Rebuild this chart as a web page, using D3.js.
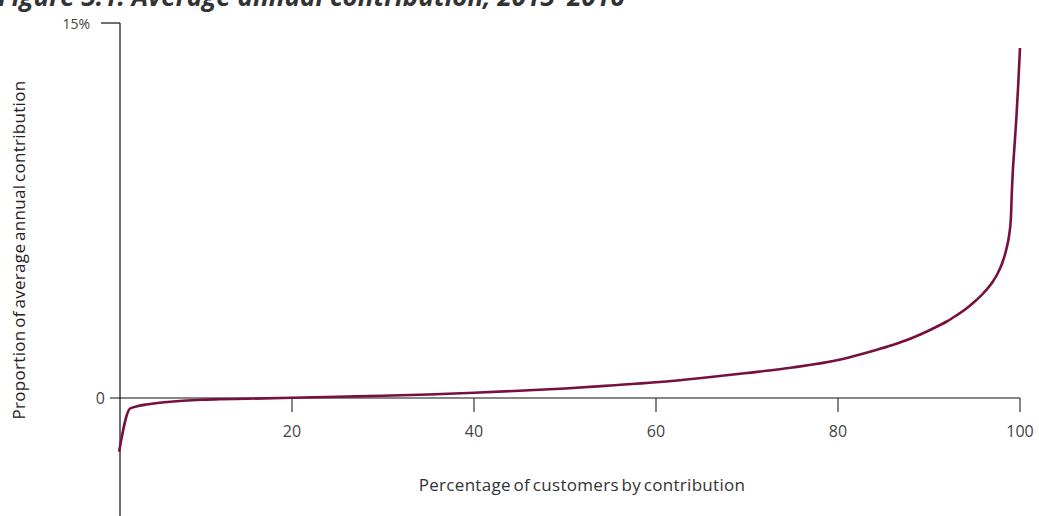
<!DOCTYPE html>
<html>
<head>
<meta charset="utf-8">
<script src="https://cdn.jsdelivr.net/npm/d3@7"></script>
<style>
  html, body { margin: 0; padding: 0; background: #fff; }
  svg { display: block; }
</style>
</head>
<body>
<svg id="chart" width="1039" height="516"></svg>
<script>
const titleText = "Figure 3.1: Average annual contribution, 2013–2016";
const xLabel = "Percentage of customers by contribution";
const yLabel = "Proportion of average annual contribution";

const pct = [1, 2.2, 3, 4, 5, 6, 8, 10, 12, 15, 20, 25, 30, 35, 40, 45, 50, 55, 60, 65, 70, 75, 80, 82, 84, 86, 88, 90, 91, 92, 93, 94, 95, 96, 97, 97.5, 98, 98.5, 98.8, 99, 99.1, 99.2, 99.4, 99.6, 99.8, 100];
const share = [-2.15, -0.42, -0.33, -0.26, -0.21, -0.17, -0.11, -0.07, -0.05, -0.03, 0.01, 0.05, 0.09, 0.14, 0.21, 0.29, 0.38, 0.5, 0.63, 0.8, 1.0, 1.22, 1.52, 1.7, 1.9, 2.12, 2.38, 2.7, 2.88, 3.07, 3.3, 3.55, 3.85, 4.2, 4.65, 4.95, 5.35, 5.95, 6.5, 7.2, 8.2, 9.0, 10.1, 11.2, 12.5, 14.0];

const xTicks = [20, 40, 60, 80, 100];
const yTicks = [0, 15];

const svg = d3.select("#chart");
const x = d3.scaleLinear().domain([0, 100]).range([110, 1020]);
const y = d3.scaleLinear().domain([-5, 15]).range([523, 23]);
const yAxisX = x(1.1);

const txt = "#444";
const fontFam = "'Open Sans', sans-serif";

// Title (cut off at top edge, as in the reference)
svg.append("text")
  .attr("x", -2).attr("y", 6)
  .attr("font-family", "'Open Sans', sans-serif")
  .attr("font-weight", "bold").attr("font-style", "italic")
  .attr("font-size", 26).attr("fill", "#333")
  .text(titleText);

// Y axis line
svg.append("line")
  .attr("x1", yAxisX).attr("x2", yAxisX)
  .attr("y1", y(15)).attr("y2", 516)
  .attr("stroke", "#111").attr("stroke-width", 1.2);

// top tick
svg.append("line")
  .attr("x1", yAxisX - 19).attr("x2", yAxisX)
  .attr("y1", y(15)).attr("y2", y(15))
  .attr("stroke", "#111").attr("stroke-width", 1.2);

// X axis line (zero line)
svg.append("line")
  .attr("x1", x(0)).attr("x2", x(100))
  .attr("y1", y(0)).attr("y2", y(0))
  .attr("stroke", "#111").attr("stroke-width", 1.2);

// X ticks
svg.selectAll(".xt").data(xTicks).enter().append("line")
  .attr("x1", d => x(d)).attr("x2", d => x(d))
  .attr("y1", y(0)).attr("y2", y(0) + 14)
  .attr("stroke", "#333").attr("stroke-width", 1.2);

svg.selectAll(".xl").data(xTicks).enter().append("text")
  .attr("x", d => x(d)).attr("y", 437)
  .attr("text-anchor", "middle")
  .attr("font-family", fontFam).attr("font-size", 16).attr("fill", txt)
  .text(d => d);

// Y tick labels
svg.append("text")
  .attr("x", 90).attr("y", y(15) + 6)
  .attr("text-anchor", "end")
  .attr("font-family", fontFam).attr("font-size", 14).attr("fill", txt)
  .text(yTicks[1] + "%");
svg.append("text")
  .attr("x", 105).attr("y", y(0) + 6)
  .attr("text-anchor", "end")
  .attr("font-family", fontFam).attr("font-size", 16).attr("fill", txt)
  .text(yTicks[0]);

// Axis titles
svg.append("text")
  .attr("x", 582).attr("y", 491)
  .attr("text-anchor", "middle")
  .attr("font-family", fontFam).attr("font-size", 17).attr("fill", "#333")
  .attr("letter-spacing", 0.3).attr("word-spacing", -2)
  .text(xLabel);

svg.append("text")
  .attr("transform", "translate(25,250) rotate(-90)")
  .attr("text-anchor", "middle")
  .attr("font-family", fontFam).attr("font-size", 17).attr("fill", "#222")
  .attr("letter-spacing", 0.3).attr("word-spacing", -2)
  .text(yLabel);

// Line
const data = pct.map((p, i) => ({ p, v: share[i] }));
const line = d3.line().x(d => x(d.p)).y(d => y(d.v)).curve(d3.curveMonotoneX);
svg.append("path")
  .datum(data)
  .attr("d", line)
  .attr("fill", "none")
  .attr("stroke", "#78103f")
  .attr("stroke-width", 2.6)
  .attr("stroke-linejoin", "round");
</script>
</body>
</html>
